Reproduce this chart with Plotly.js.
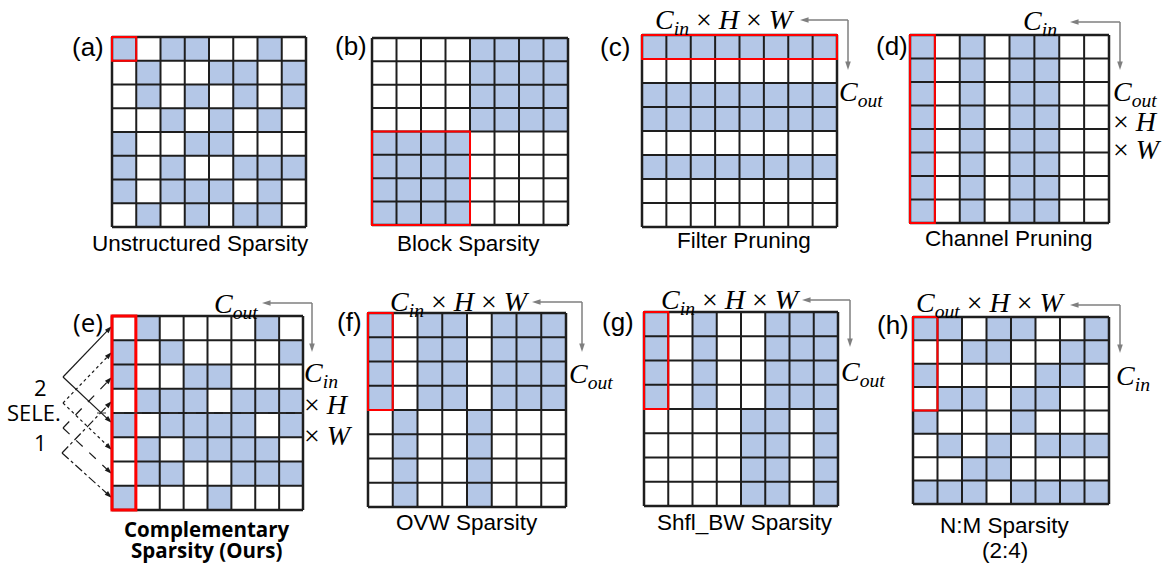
<!DOCTYPE html>
<html><head><meta charset="utf-8">
<script src="https://cdn.plot.ly/plotly-3.0.1.min.js"></script>
<style>html,body{margin:0;padding:0;background:#fff}</style></head>
<body><div id="chart" style="width:1163px;height:564px"></div>
<script>
const W = 1163, H = 564;
const cellIndex = [0,1,2,3,4,5,6,7];

// 1 = kept (blue), 0 = pruned (white); rows top to bottom
const gridA = [
  [1,0,1,1,0,0,1,0],
  [0,1,0,0,1,1,0,1],
  [0,1,0,1,0,1,0,1],
  [0,0,1,0,1,0,1,0],
  [1,0,0,1,1,0,0,0],
  [1,0,1,0,0,1,1,1],
  [1,0,1,1,1,0,1,0],
  [0,1,0,1,0,1,1,0]];
const gridB = [
  [0,0,0,0,1,1,1,1],[0,0,0,0,1,1,1,1],[0,0,0,0,1,1,1,1],[0,0,0,0,1,1,1,1],
  [1,1,1,1,0,0,0,0],[1,1,1,1,0,0,0,0],[1,1,1,1,0,0,0,0],[1,1,1,1,0,0,0,0]];
const gridC = [
  [1,1,1,1,1,1,1,1],[0,0,0,0,0,0,0,0],[1,1,1,1,1,1,1,1],[1,1,1,1,1,1,1,1],
  [0,0,0,0,0,0,0,0],[1,1,1,1,1,1,1,1],[0,0,0,0,0,0,0,0],[0,0,0,0,0,0,0,0]];
const gridD = [
  [1,0,1,0,1,1,0,0],[1,0,1,0,1,1,0,0],[1,0,1,0,1,1,0,0],[1,0,1,0,1,1,0,0],
  [1,0,1,0,1,1,0,0],[1,0,1,0,1,1,0,0],[1,0,1,0,1,1,0,0],[1,0,1,0,1,1,0,0]];
const gridE = [
  [0,1,0,0,0,0,1,0],
  [1,0,1,0,0,0,0,1],
  [1,0,0,1,1,0,0,0],
  [0,1,1,1,0,1,1,1],
  [1,0,1,1,1,1,0,1],
  [0,1,0,1,1,1,1,0],
  [0,1,1,0,0,1,1,1],
  [1,0,0,0,1,0,0,0]];
const gridF = [
  [1,0,1,1,0,1,1,1],[1,0,1,1,0,1,1,1],[1,0,1,1,0,1,1,1],[1,0,1,1,0,1,1,1],
  [0,1,0,0,1,0,0,0],[0,1,0,0,1,0,0,0],[0,1,0,0,1,0,0,0],[0,1,0,0,1,0,0,0]];
const gridG = [
  [1,0,1,0,0,1,1,1],[1,0,1,0,0,1,1,1],[1,0,1,0,0,1,1,1],[1,0,1,0,0,1,1,1],
  [0,0,0,0,1,1,0,1],[0,0,0,0,1,1,0,1],[0,0,0,0,1,1,0,1],[0,0,0,0,1,1,0,1]];
const gridH = [
  [1,1,0,1,1,0,0,1],
  [0,0,1,1,0,0,1,1],
  [1,0,0,0,0,1,1,0],
  [0,1,1,0,1,1,0,0],
  [1,0,0,0,1,0,0,0],
  [0,1,0,1,0,1,1,1],
  [0,0,1,1,0,0,0,0],
  [1,1,1,0,1,1,1,1]];

const panelLabels = ['(a)','(b)','(c)','(d)','(e)','(f)','(g)','(h)'];
const captionLine1 = ['Unstructured Sparsity','Block Sparsity','Filter Pruning','Channel Pruning',
  '<b>Complementary</b>','OVW Sparsity','Shfl_BW Sparsity','N:M Sparsity'];
const captionLine2 = ['','','','','<b>Sparsity (Ours)</b>','','','(2:4)'];
const grids = [gridA,gridB,gridC,gridD,gridE,gridF,gridG,gridH];

// layout: grid boxes in px [x0,x1,y0,y1], highlight [c0,c1,r0,r1], label pos, caption pos
const boxes = [[112,306,37,227],[372,568,38,225],[642,837,35,227],[910,1109,35,223],
               [112,303,316,510],[368,566,313,507],[644,838,312,506],[913,1109,317,504]];
const reds = [[0,0,0,0],[0,3,4,7],[0,7,0,0],[0,0,0,7],[0,0,0,7],[0,0,0,3],[0,0,0,3],[0,0,0,3]];
const labelPos = [[88,47],[351,46],[615,47],[892,46],[88,322],[349,322],[618,322],[893,325]];
const captionPos = [[200,243],[468,243],[744,240],[1009,238],[207,529],[467,522],[745,522],[1005,525]];
const caption2Pos = [null,null,null,null,[207,550],null,null,[1005,550]];

const BLUE = '#b4c7e7', LINE = '#1e1e1e', RED = '#ff0000', GRAY = '#7f7f7f';
const SANS = 'Liberation Sans, Arial, sans-serif';
const SEGOE = 'Open Sans, Noto Sans, sans-serif';
const SERIF = 'Liberation Serif, DejaVu Serif, serif';

const data = [], shapes = [], annotations = [];
const layout = {width:W, height:H, margin:{l:0,r:0,t:0,b:0}, showlegend:false,
  paper_bgcolor:'#fff', plot_bgcolor:'rgba(0,0,0,0)'};
const PADC = 0.15;

grids.forEach((z, i) => {
  const s = i === 0 ? '' : String(i+1);
  const [x0,x1,y0,y1] = boxes[i];
  const cw = (x1-x0)/8, ch = (y1-y0)/8;
  layout['xaxis'+s] = {domain:[(x0-PADC*cw)/W,(x1+PADC*cw)/W], range:[-0.5-PADC,7.5+PADC],
    visible:false, fixedrange:true, anchor:'y'+s};
  layout['yaxis'+s] = {domain:[1-(y1+PADC*ch)/H,1-(y0-PADC*ch)/H], range:[7.5+PADC,-0.5-PADC],
    visible:false, fixedrange:true, anchor:'x'+s};
  data.push({type:'heatmap', z:z, x:cellIndex, y:cellIndex, xaxis:'x'+s, yaxis:'y'+s,
    zmin:0, zmax:1, colorscale:[[0,'#ffffff'],[1,BLUE]], showscale:false, hoverinfo:'skip'});
  for (let k = 0; k <= 8; k++) {
    const w = (k === 0 || k === 8) ? 2.5 : 2;
    shapes.push({type:'line', xref:'x'+s, yref:'y'+s, x0:-0.5+k, x1:-0.5+k, y0:-0.5, y1:7.5, line:{color:LINE, width:w}, layer:'above'});
    shapes.push({type:'line', xref:'x'+s, yref:'y'+s, y0:-0.5+k, y1:-0.5+k, x0:-0.5, x1:7.5, line:{color:LINE, width:w}, layer:'above'});
  }
  const r = reds[i];
  shapes.push({type:'rect', xref:'x'+s, yref:'y'+s, x0:r[0]-0.5, x1:r[1]+0.5, y0:r[2]-0.5, y1:r[3]+0.5,
    line:{color:RED, width: i === 4 ? 3 : 2}, layer:'above'});
  annotations.push({xref:'x9', yref:'y9', x:labelPos[i][0], y:labelPos[i][1], text:panelLabels[i],
    showarrow:false, font:{family: i===4 ? SEGOE : SANS, size:26, color:'#000'}});
  const cf = {family: i===4 ? SEGOE : SANS, size: i===4 ? 20.5 : 22.5, color:'#000'};
  annotations.push({xref:'x9', yref:'y9', x:captionPos[i][0], y:captionPos[i][1], text:captionLine1[i],
    showarrow:false, font:cf});
  if (captionLine2[i]) {
    annotations.push({xref:'x9', yref:'y9', x:caption2Pos[i][0], y:caption2Pos[i][1], text:captionLine2[i],
      showarrow:false, font:cf});
  }
});

// overlay axis in page pixels for arrows and math labels
layout.xaxis9 = {domain:[0,1], range:[0,W], visible:false, fixedrange:true, anchor:'y9'};
layout.yaxis9 = {domain:[0,1], range:[H,0], visible:false, fixedrange:true, anchor:'x9'};

function arrow(from, to, color, dash, size, width) {
  data.push({type:'scatter', mode:'lines+markers', xaxis:'x9', yaxis:'y9', hoverinfo:'skip',
    x:[from[0], to[0]], y:[from[1], to[1]],
    line:{color:color, width:width, dash:dash},
    marker:{symbol:'arrow', angleref:'previous', size:size, color:color}});
}
// gray L-shaped double arrows: [tipLeft, corner, tipDown]
const dimArrows = [
  [[800,20],[848,20],[848,70]],
  [[1070,22],[1120,22],[1120,70]],
  [[262,303],[312,303],[312,352]],
  [[532,302],[582,302],[582,352]],
  [[802,300],[850,300],[850,347]],
  [[1070,305],[1120,305],[1120,353]]];
dimArrows.forEach(a => { arrow(a[1], a[0], GRAY, 'solid', 9, 1.5); arrow(a[1], a[2], GRAY, 'solid', 9, 1.5); });

// selection arrows in panel (e)
const selDash = ['solid','dot','dash','dashdot'];
const selVertex = [[63,377],[63,403],[63,428],[62,453]];
const selTips = [[[112,326],[112,423]],[[112,352],[112,450]],[[112,377],[112,474]],[[112,401],[112,498]]];
selVertex.forEach((v, k) => {
  arrow(v, selTips[k][0], '#1a1a1a', selDash[k], 8, 1.2);
  arrow(v, selTips[k][1], '#1a1a1a', selDash[k], 8, 1.2);
});
shapes.push({type:'line', xref:'x9', yref:'y9', x0:97, x1:313, y0:413, y1:413, line:{color:'#333', width:1, dash:'dash'}, layer:'above'});

annotations.push({xref:'x9', yref:'y9', x:40, y:387, text:'2', showarrow:false, font:{family:SEGOE, size:22, color:'#000'}});
annotations.push({xref:'x9', yref:'y9', x:34, y:412, text:'SELE.', showarrow:false, font:{family:SEGOE, size:22, color:'#000'}});
annotations.push({xref:'x9', yref:'y9', x:40, y:442, text:'1', showarrow:false, font:{family:SEGOE, size:22, color:'#000'}});

const CIN = '<i>C</i><sub><i>in</i></sub>', COUT = '<i>C</i><sub><i>out</i></sub>';
const HW = ' × <i>H</i> × <i>W</i>';
const math = [
  [725,21,'center', CIN+HW],
  [837,93,'left', COUT],
  [1040,22,'center', CIN],
  [1111,93,'left', COUT],
  [1111,121,'left','× <i>H</i>'],
  [1111,149,'left','× <i>W</i>'],
  [236,305,'center', COUT],
  [302,374,'left', CIN],
  [302,404,'left','× <i>H</i>'],
  [302,435,'left','× <i>W</i>'],
  [460,303,'center', CIN+HW],
  [567,375,'left', COUT],
  [731,301,'center', CIN+HW],
  [839,373,'left', COUT],
  [991,304,'center', COUT+HW],
  [1114,377,'left', CIN]];
math.forEach(m => annotations.push({xref:'x9', yref:'y9', x:m[0], y:m[1], xanchor:m[2], text:m[3],
  showarrow:false, font:{family:SERIF, size:28, color:'#000'}}));

layout.shapes = shapes;
layout.annotations = annotations;
Plotly.newPlot('chart', data, layout, {staticPlot:true, displayModeBar:false});
</script></body></html>
